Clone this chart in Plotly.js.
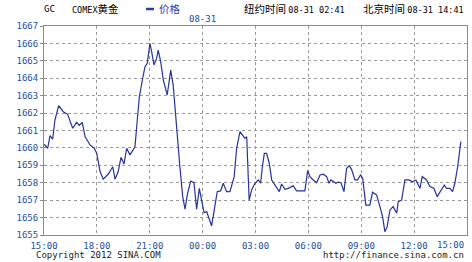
<!DOCTYPE html>
<html><head><meta charset="utf-8">
<script src="https://cdn.plot.ly/plotly-3.0.1.min.js"></script>
<style>html,body{margin:0;padding:0;background:#fff}#c{width:472px;height:262px}</style>
</head><body><div id="c"></div>
<script>
// hours elapsed since 15:00 (08-30)
const hours = [0,0.21,0.34,0.49,0.62,0.83,1.09,1.34,1.63,1.85,2.00,2.17,2.33,2.61,2.85,2.99,3.18,3.36,3.65,3.90,4.03,4.21,4.37,4.54,4.69,4.88,5.16,5.41,5.60,5.73,5.86,6.01,6.11,6.24,6.39,6.48,6.62,6.77,6.99,7.19,7.33,7.53,7.71,7.87,8.00,8.15,8.32,8.51,8.66,8.81,8.95,9.08,9.23,9.51,9.66,9.83,10.02,10.17,10.36,10.55,10.79,10.93,11.12,11.30,11.40,11.50,11.64,11.78,11.97,12.16,12.29,12.38,12.50,12.63,12.78,12.92,13.05,13.35,13.48,13.67,13.86,14.14,14.33,14.80,14.96,15.09,15.28,15.47,15.66,15.84,16.04,16.17,16.28,16.41,16.56,16.69,16.85,17.02,17.17,17.32,17.45,17.64,17.79,17.96,18.08,18.26,18.49,18.64,18.87,19.06,19.21,19.34,19.47,19.63,19.81,20.01,20.10,20.29,20.48,20.70,20.91,21.10,21.33,21.46,21.71,21.89,22.12,22.31,22.50,22.71,22.84,23.03,23.18,23.31,23.47,23.65];
const price = [1660.21,1659.98,1660.7,1660.5,1661.6,1662.43,1662.08,1661.93,1661.13,1661.47,1661.3,1661.47,1660.65,1660.17,1659.98,1659.7,1658.64,1658.2,1658.5,1658.92,1658.2,1658.64,1659.46,1659.08,1659.98,1659.6,1660.07,1662.94,1664.0,1664.66,1664.86,1666.0,1665.52,1664.76,1665.14,1665.62,1664.95,1663.9,1663.04,1664.47,1663.6,1660.84,1658.92,1657.2,1656.48,1657.4,1658.1,1658.0,1656.48,1657.68,1657.0,1656.28,1656.34,1655.52,1656.44,1657.49,1657.53,1657.97,1657.49,1657.49,1658.35,1659.98,1660.93,1660.69,1660.55,1660.64,1657.0,1657.59,1657.97,1658.16,1657.97,1658.83,1659.69,1659.69,1659.12,1658.16,1657.97,1657.49,1657.93,1657.62,1657.68,1657.83,1657.53,1657.53,1658.7,1658.35,1658.16,1658.0,1658.45,1658.49,1658.35,1657.97,1658.16,1658.05,1657.97,1658.03,1658.0,1657.49,1658.83,1658.98,1658.77,1658.16,1658.16,1658.45,1658.26,1656.72,1656.72,1657.45,1657.3,1656.63,1656.05,1655.19,1655.48,1656.44,1656.63,1656.25,1656.91,1657.0,1658.16,1658.16,1658.06,1658.16,1657.68,1658.35,1658.16,1657.78,1657.68,1657.2,1657.49,1657.87,1657.68,1657.68,1657.49,1657.97,1658.92,1660.36];
const xTickVals = [0,3,6,9,12,15,18,21,24];
const xTickText = ["15:00","18:00","21:00","00:00","03:00","06:00","09:00","12:00","15:00"];
const yTickVals = [1655,1656,1657,1658,1659,1660,1661,1662,1663,1664,1665,1666,1667];

const blue = "#1d4f9e";
const mono = "DejaVu Sans Mono, monospace";
const cjk = "Noto Sans CJK SC, sans-serif";
const W = 423, H = 209, L = 44, T = 26;
const px = v => (v - L) / W;
const py = v => 1 - (v - T) / H;

// last tick label is drawn right-aligned at the edge, as in the original
const shownTicks = xTickText.map((t, i) => i === xTickText.length - 1 ? "" : t);

Plotly.newPlot("c", [{
  x: hours, y: price, type: "scatter", mode: "lines", name: "价格",
  line: {color: "#25339a", width: 1.2}, showlegend: false, hoverinfo: "skip"
}], {
  width: 472, height: 262,
  margin: {l: 44, r: 5, t: 26, b: 27, pad: 0},
  paper_bgcolor: "#fff", plot_bgcolor: "#fff",
  xaxis: {range: [0, 24], tickvals: xTickVals, ticktext: shownTicks,
    showgrid: true, gridcolor: "#9a9a9a", griddash: "dot", gridwidth: 1,
    showline: true, linecolor: "#8c8c8c", linewidth: 1, mirror: true,
    ticks: "outside", ticklen: 2, tickcolor: "#fff", zeroline: false, fixedrange: true,
    tickfont: {family: mono, size: 9, color: blue}},
  yaxis: {range: [1655, 1667], tickvals: yTickVals,
    showgrid: true, gridcolor: "#9a9a9a", griddash: "dot", gridwidth: 1,
    showline: true, linecolor: "#8c8c8c", linewidth: 1, mirror: true,
    ticks: "outside", ticklen: 3, tickcolor: "#8c8c8c", zeroline: false,
    tickfont: {family: mono, size: 9, color: blue}},
  shapes: [{type: "line", xref: "paper", yref: "paper", x0: px(146), x1: px(154), y0: py(9), y1: py(9),
    line: {color: "#2a3ca8", width: 2.5}}],
  annotations: [
    {xref: "paper", yref: "paper", x: px(42), y: py(9), xanchor: "left", yanchor: "middle", showarrow: false,
     text: "GC", font: {family: mono, size: 9, color: "#000"}},
    {xref: "paper", yref: "paper", x: px(70), y: py(9), xanchor: "left", yanchor: "middle", showarrow: false,
     text: "<span style='font-family:DejaVu Sans Mono;font-size:8.5px'>COMEX</span>黄金", font: {family: cjk, size: 10.5, color: "#000"}},
    {xref: "paper", yref: "paper", x: px(157), y: py(9), xanchor: "left", yanchor: "middle", showarrow: false,
     text: "价格", font: {family: cjk, size: 10.5, color: "#2a3ca8"}},
    {xref: "paper", yref: "paper", x: px(242), y: py(9), xanchor: "left", yanchor: "middle", showarrow: false,
     text: "纽约时间 <span style='font-family:DejaVu Sans Mono;font-size:8.5px'>08-31 02:41</span>", font: {family: cjk, size: 10.5, color: "#000"}},
    {xref: "paper", yref: "paper", x: px(361), y: py(9), xanchor: "left", yanchor: "middle", showarrow: false,
     text: "北京时间 <span style='font-family:DejaVu Sans Mono;font-size:8.5px'>08-31 14:41</span>", font: {family: cjk, size: 10.5, color: "#000"}},
    {xref: "x", yref: "paper", x: xTickVals[3], y: py(19), xanchor: "center", yanchor: "middle", showarrow: false,
     text: "08-31", font: {family: mono, size: 9, color: blue}},
    {xref: "paper", yref: "paper", x: px(466), y: py(245), xanchor: "right", yanchor: "middle", showarrow: false,
     text: xTickText[xTickText.length - 1], font: {family: mono, size: 9, color: blue}},
    {xref: "paper", yref: "paper", x: px(34), y: py(255), xanchor: "left", yanchor: "middle", showarrow: false,
     text: "Copyright 2012 SINA.COM", font: {family: mono, size: 9, color: "#222"}},
    {xref: "paper", yref: "paper", x: px(466), y: py(255), xanchor: "right", yanchor: "middle", showarrow: false,
     text: "http://finance.sina.com.cn", font: {family: mono, size: 9, color: "#222"}}
  ]
}, {displayModeBar: false, staticPlot: true});
</script></body></html>
